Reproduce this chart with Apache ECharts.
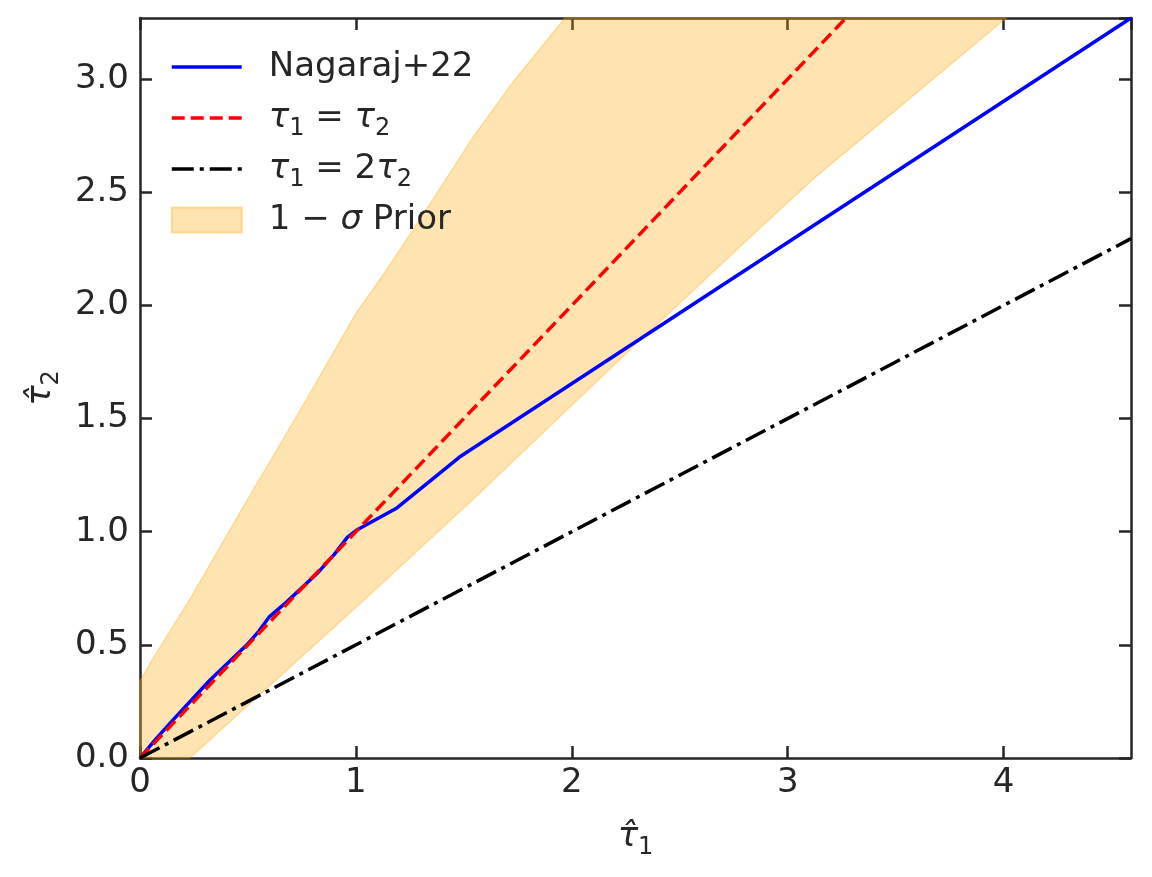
<!DOCTYPE html>
<html>
<head>
<meta charset="utf-8">
<script src="https://cdn.jsdelivr.net/npm/echarts@6/dist/echarts.min.js"></script>
<style>
html, body {margin: 0; padding: 0; background: #fff;}
#container {width: 1152px; height: 877px;}
</style>
</head>
<body>
<div id="container"></div>
<script>
// 轴范围
var xMax = 4.59;
var yMax = 3.27;

// Nagaraj+22 曲线
var nagarajX = [0, 0.07, 0.15, 0.32, 0.5, 0.55, 0.6, 0.68, 0.82, 0.9, 0.96, 1.0, 1.19, 1.48, 4.59];
var nagarajY = [0, 0.08, 0.165, 0.34, 0.505, 0.56, 0.625, 0.69, 0.815, 0.9, 0.975, 1.005, 1.105, 1.33, 3.27];

// 参考线 tau1 = tau2, tau1 = 2 tau2
var equalX = [0, 3.27];
var equalY = [0, 3.27];
var doubleX = [0, 4.59];
var doubleY = [0, 2.295];

// 1-sigma 先验区域 上边界 / 下边界
var upperX = [0, 0.06, 0.23, 0.46, 0.75, 1.0, 1.13, 1.31, 1.54, 1.73, 1.968];
var upperY = [0.34, 0.44, 0.70, 1.08, 1.55, 1.965, 2.14, 2.40, 2.74, 2.99, 3.27];
var lowerX = [0.231, 0.63, 1.04, 1.54, 2.32, 2.87, 3.12, 4.012];
var lowerY = [0, 0.345, 0.70, 1.14, 1.85, 2.34, 2.56, 3.27];

// 刻度
var xTicks = [0, 1, 2, 3, 4];
var yTicks = [0, 0.5, 1.0, 1.5, 2.0, 2.5, 3.0];

var legendNames = ['Nagaraj+22', 'τ1 = τ2', 'τ1 = 2τ2', '1 − σ Prior'];
// 末尾的 {s| } 只是为了让每行高度一致
var legendRich = {
    'Nagaraj+22': '{m|Nagaraj+22}{s|\u2009}',
    'τ1 = τ2': '{i|τ}{s|1}{m| = }{i|τ}{s|2}',
    'τ1 = 2τ2': '{i|τ}{s|1}{m| = 2}{i|τ}{s|2}',
    '1 − σ Prior': '{m|1 − }{i|σ}{m| Prior}{s|\u2009}'
};

function pairs(xs, ys) {
    var out = [];
    for (var i = 0; i < xs.length; i++) {
        out.push([xs[i], ys[i]]);
    }
    return out;
}

var FONT = 'DejaVu Sans';
var TXT = '#262626';
var FS = 34;
var SUB = 24;
var LW = 3.5;

var rich = {
    m: {fontFamily: FONT, fontSize: FS, color: TXT},
    i: {fontFamily: FONT, fontSize: FS, color: TXT, fontStyle: 'italic'},
    s: {fontFamily: FONT, fontSize: SUB, color: TXT, padding: [22, 0, 0, 0]}
};

var dom = document.getElementById("container");
var myChart = echarts.init(dom, null, {renderer: 'canvas'});

var axisLine = {show: true, onZero: false, lineStyle: {color: TXT, width: 2.5}};
var axisTick = {show: true, inside: true, length: 12, lineStyle: {color: TXT, width: 2.5}};

var bandPoly = pairs(upperX, upperY).concat(pairs(lowerX, lowerY).reverse());
bandPoly.push([0, 0]);

var option = {
    animation: false,
    backgroundColor: '#ffffff',
    grid: {left: 140, top: 18, right: 21, bottom: 119, containLabel: false},
    legend: {
        orient: 'vertical',
        left: 170,
        top: 50,
        padding: 0,
        itemGap: 11,
        itemWidth: 70,
        itemHeight: 25,
        itemStyle: {opacity: 0},
        lineStyle: {width: LW},
        data: [
            {name: legendNames[0]},
            {name: legendNames[1]},
            {name: legendNames[2]},
            {name: legendNames[3], icon: 'rect',
             itemStyle: {color: 'rgba(255,165,0,0.3)', borderColor: 'rgba(255,165,0,0.35)', borderWidth: 2, opacity: 1}}
        ],
        formatter: function (name) { return legendRich[name]; },
        textStyle: {fontFamily: FONT, fontSize: FS, color: TXT, padding: [0, 0, 0, 22], rich: rich}
    },
    xAxis: [{
        type: 'value', min: 0, max: xMax, interval: 1,
        name: '{i|τ̂}{s|1}', nameLocation: 'middle', nameGap: 56,
        nameTextStyle: {rich: rich},
        axisLine: axisLine, axisTick: axisTick,
        axisLabel: {
            fontFamily: FONT, fontSize: FS, color: TXT, margin: 8, showMaxLabel: false,
            formatter: function (v) { return xTicks.indexOf(v) >= 0 ? String(v) : ''; }
        },
        splitLine: {show: false}
    }, {
        type: 'value', min: 0, max: xMax, interval: 1, position: 'top',
        axisLine: axisLine, axisTick: axisTick,
        axisLabel: {show: false}, splitLine: {show: false}
    }],
    yAxis: [{
        type: 'value', min: 0, max: yMax, interval: 0.5,
        name: '{i|τ̂}{s|2}', nameLocation: 'middle', nameGap: 76, nameRotate: 90,
        nameTextStyle: {rich: rich},
        axisLine: axisLine, axisTick: axisTick,
        axisLabel: {
            fontFamily: FONT, fontSize: FS, color: TXT, margin: 11, showMaxLabel: false,
            formatter: function (v) { return yTicks.indexOf(v) >= 0 ? v.toFixed(1) : ''; }
        },
        splitLine: {show: false}
    }, {
        type: 'value', min: 0, max: yMax, interval: 0.5, position: 'right',
        axisLine: axisLine, axisTick: axisTick,
        axisLabel: {show: false}, splitLine: {show: false}
    }],
    series: [{
        name: legendNames[3],
        type: 'custom',
        z: 1,
        data: [0],
        itemStyle: {color: 'rgba(255,165,0,0.3)'},
        renderItem: function (params, api) {
            var pts = bandPoly.map(function (p) { return api.coord(p); });
            return {
                type: 'polygon',
                shape: {points: pts},
                style: {fill: 'rgba(255,165,0,0.3)', stroke: 'rgba(255,165,0,0.3)', lineWidth: 1.5}
            };
        }
    }, {
        name: legendNames[0],
        type: 'line',
        z: 2,
        symbol: 'none',
        data: pairs(nagarajX, nagarajY),
        lineStyle: {color: '#0000ff', width: LW},
        itemStyle: {color: '#0000ff'}
    }, {
        name: legendNames[1],
        type: 'line',
        z: 3,
        symbol: 'none',
        data: pairs(equalX, equalY),
        lineStyle: {color: '#ff0000', width: LW, type: [13, 6]},
        itemStyle: {color: '#ff0000'}
    }, {
        name: legendNames[2],
        type: 'line',
        z: 4,
        symbol: 'none',
        data: pairs(doubleX, doubleY),
        lineStyle: {color: '#000000', width: LW, type: [22, 6, 4, 6]},
        itemStyle: {color: '#000000'}
    }]
};

if (option && typeof option === "object") {
    myChart.setOption(option, true);
}
</script>
</body>
</html>
